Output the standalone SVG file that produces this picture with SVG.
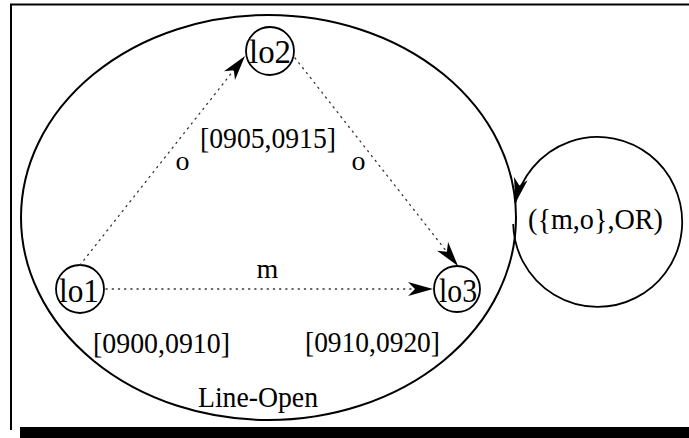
<svg xmlns="http://www.w3.org/2000/svg" width="689" height="438" viewBox="0 0 689 438">
<style>
  .lbl { font-family: "Liberation Serif", "Times New Roman", serif; fill: #000; text-anchor: middle; }
  .node { fill: none; stroke: #000; stroke-width: 1.8; }
  .dot { fill: none; stroke: #333; stroke-width: 1.3; stroke-dasharray: 1.2 5; stroke-linecap: round; }
  .solid { fill: none; stroke: #000; stroke-width: 1.8; }
</style>
<defs>
  <marker id="arr" markerUnits="userSpaceOnUse" viewBox="-27 -8 28 16" refX="0" refY="0" markerWidth="28" markerHeight="16" orient="auto">
    <path d="M0,0 L-25,-7 L-18,0 L-25,7 Z" fill="#000"/>
  </marker>
</defs>
<rect x="0" y="0" width="689" height="438" fill="#fff"/>
<g id="frame">
  <path d="M11,430 L11,4.5 L689,4.5" fill="none" stroke="#000" stroke-width="2"/>
  <rect x="20" y="427" width="669" height="11" fill="#000"/>
</g>
<g id="line-open">
  <ellipse cx="268.5" cy="217.5" rx="247.5" ry="202.5" fill="none" stroke="#000" stroke-width="2"/>
  <text class="lbl" x="258" y="407" font-size="30" textLength="120" lengthAdjust="spacingAndGlyphs">Line-Open</text>
</g>
<g id="lo1">
  <circle class="node" cx="80" cy="289" r="24"/>
  <text class="lbl" x="79" y="302" font-size="33" textLength="40" lengthAdjust="spacingAndGlyphs">lo1</text>
</g>
<g id="lo2">
  <circle class="node" cx="270" cy="51" r="24"/>
  <text class="lbl" x="270" y="63" font-size="33" textLength="42" lengthAdjust="spacingAndGlyphs">lo2</text>
</g>
<g id="lo3">
  <circle class="node" cx="457" cy="289" r="23"/>
  <text class="lbl" x="458" y="302" font-size="33" textLength="38" lengthAdjust="spacingAndGlyphs">lo3</text>
</g>
<g id="connectors">
  <path class="dot" d="M80,265 L245,56" marker-end="url(#arr)"/>
  <path class="dot" d="M295,58 L458,266" marker-end="url(#arr)"/>
  <path class="dot" d="M106,289 L433,289" marker-end="url(#arr)"/>
  <path class="solid" d="M513.2,224 A84.5,85 0 1 0 515.3,203" marker-end="url(#arr)"/>
</g>
<g id="labels">
  <text class="lbl" x="268" y="148" font-size="30" textLength="136" lengthAdjust="spacingAndGlyphs">[0905,0915]</text>
  <text class="lbl" x="161.5" y="353" font-size="30" textLength="137" lengthAdjust="spacingAndGlyphs">[0900,0910]</text>
  <text class="lbl" x="372.5" y="352" font-size="30" textLength="135" lengthAdjust="spacingAndGlyphs">[0910,0920]</text>
  <text class="lbl" x="182.5" y="170" font-size="28">o</text>
  <text class="lbl" x="358.5" y="170" font-size="28">o</text>
  <text class="lbl" x="267.5" y="278" font-size="28">m</text>
  <text class="lbl" x="595.5" y="229" font-size="30" textLength="135" lengthAdjust="spacingAndGlyphs">({m,o},OR)</text>
</g>
</svg>
